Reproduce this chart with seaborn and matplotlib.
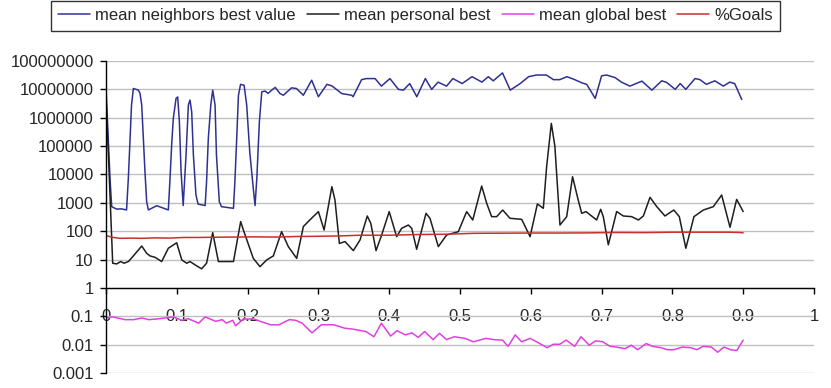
import matplotlib
matplotlib.use('Agg')
import matplotlib.pyplot as plt
import seaborn as sns
import pandas as pd
from matplotlib.ticker import FixedLocator, FixedFormatter, NullLocator

# mean neighbors best value
nb_x = [0.0, 0.0056, 0.008, 0.015, 0.022, 0.029, 0.0315, 0.034, 0.036, 0.0386,
        0.0457, 0.048, 0.0504, 0.0527, 0.055, 0.0574, 0.0598, 0.0716, 0.088, 0.0904,
        0.0927, 0.095, 0.0989, 0.1012, 0.1036, 0.106, 0.109, 0.113, 0.1163, 0.1186,
        0.121, 0.1234, 0.127, 0.130, 0.140, 0.142, 0.1445, 0.148, 0.1507, 0.154,
        0.156, 0.160, 0.163, 0.180, 0.182, 0.1846, 0.187, 0.190, 0.195, 0.1987,
        0.203, 0.208, 0.2105, 0.213, 0.2166, 0.220, 0.2246, 0.229, 0.234, 0.239,
        0.2458, 0.2505, 0.262, 0.269, 0.2787, 0.2905, 0.300, 0.312, 0.319, 0.333,
        0.347, 0.349, 0.361, 0.368, 0.380, 0.389, 0.401, 0.413, 0.420, 0.429,
        0.439, 0.451, 0.460, 0.469, 0.481, 0.490, 0.503, 0.517, 0.531, 0.540,
        0.547, 0.560, 0.571, 0.585, 0.597, 0.608, 0.622, 0.632, 0.641, 0.651,
        0.662, 0.672, 0.679, 0.691, 0.700, 0.707, 0.719, 0.728, 0.740, 0.757,
        0.771, 0.785, 0.792, 0.804, 0.811, 0.819, 0.832, 0.839, 0.848, 0.860,
        0.872, 0.881, 0.888, 0.898]
nb_y = [1.07e7, 7.3e3, 730, 600, 610, 560, 7.3e3, 1.9e5, 2.8e6, 1.07e7,
        9.4e6, 7.2e6, 2.8e6, 1.9e5, 1.25e4, 1.1e3, 560, 790, 560, 7.3e3,
        1.1e5, 9.4e5, 4.8e6, 5.4e6, 7.2e5, 1.25e4, 800, 4.8e4, 2.8e6, 4.2e6,
        1.6e6, 4.8e4, 1.9e3, 900, 800, 5.5e3, 1.9e5, 2.8e6, 9.4e6, 2.8e6,
        4.8e4, 1.1e3, 730, 640, 5.5e3, 1.9e5, 6e6, 1.5e7, 1.4e7, 2.8e6,
        6.3e4, 3.2e3, 800, 7.3e3, 7.2e5, 8.2e6, 8.7e6, 7.2e6, 9.4e6, 1.17e7,
        7.1e6, 6.2e6, 1.13e7, 1.07e7, 6.2e6, 2.1e7, 5.5e6, 1.5e7, 1.33e7, 7.1e6,
        6.2e6, 5.5e6, 2.2e7, 2.4e7, 2.4e7, 1.3e7, 2.4e7, 1.0e7, 9.4e6, 1.6e7,
        5.5e6, 2.4e7, 1.0e7, 1.8e7, 1.3e7, 2.4e7, 1.6e7, 2.8e7, 1.8e7, 2.8e7,
        2.0e7, 3.8e7, 9.4e6, 1.6e7, 2.8e7, 3.2e7, 3.2e7, 2.2e7, 2.2e7, 2.8e7,
        2.2e7, 1.7e7, 1.5e7, 4.8e6, 3.0e7, 3.2e7, 2.6e7, 1.8e7, 1.3e7, 1.95e7,
        9.4e6, 2.0e7, 1.75e7, 1.0e7, 1.6e7, 1.0e7, 2.4e7, 2.2e7, 1.5e7, 2.0e7,
        1.3e7, 1.8e7, 1.6e7, 4.4e6]

# mean personal best
pb_x = [0.0, 0.004, 0.0094, 0.0151, 0.0207, 0.0254, 0.0316, 0.0386, 0.0504, 0.0574,
        0.0621, 0.0692, 0.0786, 0.088, 0.0998, 0.107, 0.114, 0.1186, 0.1257, 0.135,
        0.142, 0.1507, 0.1587, 0.180, 0.1902, 0.194, 0.208, 0.2175, 0.227, 0.2363,
        0.248, 0.2575, 0.2693, 0.2787, 0.288, 0.300, 0.308, 0.319, 0.3234, 0.3296,
        0.3376, 0.3493, 0.3588, 0.369, 0.374, 0.3814, 0.3893, 0.400, 0.4105, 0.4176,
        0.427, 0.4318, 0.4388, 0.452, 0.4576, 0.4694, 0.481, 0.4976, 0.5094, 0.518,
        0.5306, 0.5377, 0.5447, 0.5518, 0.5603, 0.5706, 0.5871, 0.599, 0.6093, 0.6177,
        0.6224, 0.629, 0.634, 0.6412, 0.6507, 0.659, 0.667, 0.6719, 0.678, 0.693,
        0.6987, 0.7024, 0.7095, 0.7213, 0.7307, 0.7425, 0.752, 0.759, 0.7684, 0.778,
        0.7895, 0.802, 0.8098, 0.819, 0.8305, 0.8437, 0.8578, 0.8696, 0.8814, 0.8908,
        0.900]
pb_y = [5e6, 2e4, 7.4, 7.0, 8.5, 7.4, 8.5, 13.4, 30, 16.6,
        13.4, 12, 8.5, 25, 39, 9.7, 7.4, 8.5, 6.5, 4.7,
        7.4, 89, 8.5, 8.5, 218, 110, 11, 5.6, 9.7, 13.4,
        96, 28.5, 11, 145, 250, 490, 110, 3700, 1250, 37,
        43, 20.6, 49, 343, 189, 20.6, 73, 488, 64, 126,
        165, 126, 23, 425, 284, 28.5, 73, 96, 488, 248,
        3900, 960, 325, 325, 557, 284, 262, 64, 910, 640,
        1.9e4, 6.3e5, 1.0e5, 165, 325, 8300, 1250, 425, 490, 248,
        590, 325, 33, 490, 343, 325, 248, 343, 1560, 730,
        343, 557, 325, 25, 325, 557, 730, 1880, 137, 1320,
        490]

# mean global best
gb_x = [0.0, 0.009, 0.027, 0.039, 0.051, 0.060, 0.072, 0.083, 0.095, 0.107,
        0.116, 0.131, 0.140, 0.155, 0.164, 0.170, 0.179, 0.183, 0.194, 0.209,
        0.218, 0.2325, 0.244, 0.259, 0.268, 0.277, 0.291, 0.304, 0.322, 0.337,
        0.349, 0.367, 0.3785, 0.389, 0.402, 0.411, 0.423, 0.432, 0.441, 0.450,
        0.462, 0.471, 0.481, 0.492, 0.507, 0.519, 0.5276, 0.5365, 0.548, 0.560,
        0.568, 0.578, 0.587, 0.599, 0.611, 0.623, 0.632, 0.641, 0.650, 0.662,
        0.671, 0.6826, 0.6915, 0.7016, 0.712, 0.721, 0.733, 0.742, 0.751, 0.763,
        0.772, 0.784, 0.793, 0.802, 0.814, 0.826, 0.8346, 0.8435, 0.855, 0.864,
        0.873, 0.882, 0.891, 0.900]
gb_y = [0.087, 0.095, 0.076, 0.076, 0.087, 0.076, 0.080, 0.087, 0.095, 0.072,
        0.082, 0.057, 0.095, 0.066, 0.076, 0.057, 0.072, 0.046, 0.080, 0.080,
        0.066, 0.050, 0.050, 0.076, 0.072, 0.057, 0.026, 0.050, 0.050, 0.038,
        0.035, 0.029, 0.019, 0.057, 0.020, 0.031, 0.022, 0.026, 0.018, 0.029,
        0.015, 0.025, 0.015, 0.019, 0.0166, 0.0126, 0.0144, 0.0166, 0.015, 0.0144,
        0.0087, 0.022, 0.0126, 0.0166, 0.0115, 0.0078, 0.0103, 0.0103, 0.0144, 0.0087,
        0.019, 0.0095, 0.0136, 0.0126, 0.0087, 0.0082, 0.0072, 0.0095, 0.0066, 0.0109,
        0.0087, 0.0078, 0.0066, 0.0066, 0.0082, 0.0078, 0.0066, 0.0087, 0.0082, 0.0054,
        0.0082, 0.0066, 0.0062, 0.0144]

# %Goals
pg_x = [0.0, 0.01, 0.02, 0.035, 0.05, 0.07, 0.09, 0.11, 0.13, 0.15,
        0.18, 0.21, 0.24, 0.27, 0.30, 0.33, 0.36, 0.40, 0.44, 0.48,
        0.52, 0.56, 0.60, 0.64, 0.68, 0.72, 0.76, 0.80, 0.84, 0.88,
        0.895, 0.90]
pg_y = [70, 60, 56, 57, 56, 58, 57, 60, 60, 61,
        62, 63, 62, 65, 66, 68, 72, 72, 76, 78,
        84, 85, 86, 86, 87, 90, 89, 92, 92, 92,
        90, 87]

y_ticks = [1e-3, 1e-2, 1e-1, 1, 10, 100, 1e3, 1e4, 1e5, 1e6, 1e7, 1e8]
y_labels = ['0.001', '0.01', '0.1', '1', '10', '100', '1000', '10000',
            '100000', '1000000', '10000000', '100000000']
x_ticks = [0, 0.1, 0.2, 0.3, 0.4, 0.5, 0.6, 0.7, 0.8, 0.9, 1.0]
x_labels = ['0', '0.1', '0.2', '0.3', '0.4', '0.5', '0.6', '0.7', '0.8', '0.9', '1']

series = [
    ('mean neighbors best value', nb_x, nb_y, '#2E3192'),
    ('mean personal best', pb_x, pb_y, '#1E1E1E'),
    ('mean global best', gb_x, gb_y, '#E040E0'),
    ('%Goals', pg_x, pg_y, '#C8302C'),
]

sns.set_style('white')
plt.rcParams['font.family'] = ['Liberation Sans', 'DejaVu Sans']

fig = plt.figure(figsize=(8.31, 3.88), dpi=100)
ax = fig.add_axes([0.1276, 0.0387, 0.8519, 0.8041])

for name, xs, ys, col in series:
    d = pd.DataFrame({'x': xs, 'y': ys})
    sns.lineplot(data=d, x='x', y='y', ax=ax, color=col, linewidth=1.1,
                 estimator=None, sort=False, label=name)

ax.set_yscale('log')
ax.set_ylim(1e-3, 1e8)
ax.set_xlim(0, 1)
ax.yaxis.set_major_locator(FixedLocator(y_ticks))
ax.yaxis.set_major_formatter(FixedFormatter(y_labels))
ax.yaxis.set_minor_locator(NullLocator())
ax.xaxis.set_major_locator(FixedLocator(x_ticks))
ax.xaxis.set_major_formatter(FixedFormatter(x_labels))
ax.set_xlabel('')
ax.set_ylabel('')

ax.grid(axis='y', color='#C0C0C0', linewidth=1.0)
ax.grid(axis='x', visible=False)
ax.set_axisbelow(True)

for s in ['top', 'right']:
    ax.spines[s].set_visible(False)
ax.spines['bottom'].set_position(('data', 1))
ax.spines['bottom'].set_color('black')
ax.spines['left'].set_color('black')
ax.spines['bottom'].set_linewidth(1.0)
ax.spines['left'].set_linewidth(1.0)

ax.tick_params(axis='y', direction='out', length=4, width=1, color='black',
               labelsize=12, pad=5, left=True)
ax.tick_params(axis='x', direction='out', length=4, width=1, color='black',
               labelsize=12, pad=11, bottom=True)

ax.get_legend().remove()
handles, labels = ax.get_legend_handles_labels()
leg = fig.legend(handles, labels, loc='upper center', bbox_to_anchor=(0.5, 1.0),
                 ncol=4, frameon=True, fancybox=False, edgecolor='black',
                 fontsize=12, handlelength=1.9, handletextpad=0.3,
                 columnspacing=0.7, borderpad=0.45, borderaxespad=0.05)
leg.get_frame().set_linewidth(1.0)

fig.savefig('out.png', dpi=100)
